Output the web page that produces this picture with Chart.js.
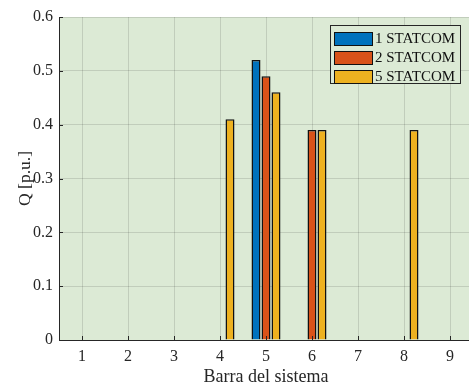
<!DOCTYPE html>
<html>
<head>
<meta charset="utf-8">
<script src="https://cdn.jsdelivr.net/npm/chart.js@4.4.0/dist/chart.umd.min.js"></script>
<style>
  html, body { margin: 0; padding: 0; background: #ffffff; overflow: hidden; }
  #wrap { width: 474px; height: 386px; position: relative; }
</style>
</head>
<body>
<div id="wrap"><canvas id="qChart"></canvas></div>
<script>
// Barras del sistema y potencia reactiva inyectada por cada caso
const barras = ['1', '2', '3', '4', '5', '6', '7', '8', '9'];
const statcom1 = [0, 0, 0, 0, 0.52, 0, 0, 0, 0];
const statcom2 = [0, 0, 0, 0, 0.49, 0.39, 0, 0, 0];
const statcom5 = [0, 0, 0, 0.41, 0.46, 0.39, 0, 0.39, 0];
const etiquetas = ['1 STATCOM', '2 STATCOM', '5 STATCOM'];
const yTicks = [0, 0.1, 0.2, 0.3, 0.4, 0.5, 0.6];

const colores = ['#0072BD', '#D95319', '#EDB120'];
const fondo = 'rgb(220,234,213)';
const fuente = "'Liberation Serif', 'Times New Roman', serif";

// Fondo verde del area de trazado
const fondoPlugin = {
    id: 'fondo',
    beforeDraw(chart) {
        const { ctx, chartArea: a } = chart;
        ctx.save();
        ctx.fillStyle = fondo;
        ctx.fillRect(a.left, a.top, a.right - a.left, a.bottom - a.top);
        ctx.restore();
    }
};

// Ejes con marcas hacia dentro, como en MATLAB
const ejesPlugin = {
    id: 'ejes',
    afterDatasetsDraw(chart) {
        const { ctx, chartArea: a, scales } = chart;
        ctx.save();
        ctx.strokeStyle = '#262626';
        ctx.lineWidth = 1;
        ctx.beginPath();
        ctx.moveTo(a.left + 0.5, a.top);
        ctx.lineTo(a.left + 0.5, a.bottom + 0.5);
        ctx.lineTo(a.right, a.bottom + 0.5);
        scales.y.ticks.forEach(t => {
            const y = Math.round(scales.y.getPixelForValue(t.value)) + 0.5;
            ctx.moveTo(a.left, y);
            ctx.lineTo(a.left + 4, y);
        });
        barras.forEach((b, i) => {
            const x = Math.round(scales.x.getPixelForValue(i)) + 0.5;
            ctx.moveTo(x, a.bottom);
            ctx.lineTo(x, a.bottom - 4);
        });
        ctx.stroke();
        ctx.restore();
    }
};

// Leyenda dentro del area, esquina superior derecha
const leyendaPlugin = {
    id: 'leyenda',
    afterDraw(chart) {
        const { ctx } = chart;
        const x0 = 330, y0 = 25, w = 130, h = 58;
        ctx.save();
        ctx.fillStyle = fondo;
        ctx.fillRect(x0, y0, w, h);
        ctx.strokeStyle = '#262626';
        ctx.lineWidth = 1;
        ctx.strokeRect(x0 + 0.5, y0 + 0.5, w, h);
        ctx.font = '15px ' + fuente;
        ctx.textBaseline = 'middle';
        chart.data.datasets.forEach((ds, i) => {
            const yc = y0 + 13 + i * 19;
            ctx.fillStyle = ds.backgroundColor;
            ctx.fillRect(x0 + 4, yc - 6, 38, 13);
            ctx.strokeStyle = '#111';
            ctx.strokeRect(x0 + 4.5, yc - 5.5, 38, 13);
            ctx.fillStyle = '#111';
            ctx.fillText(ds.label, x0 + 45, yc + 1);
        });
        ctx.restore();
    }
};

const ctx = document.getElementById('qChart').getContext('2d');
new Chart(ctx, {
    type: 'bar',
    data: {
        labels: barras,
        datasets: [statcom1, statcom2, statcom5].map((serie, i) => ({
            label: etiquetas[i],
            data: serie,
            backgroundColor: colores[i],
            borderColor: '#111',
            borderWidth: 1.5,
            borderSkipped: 'start',
            categoryPercentage: 0.652,
            barPercentage: 0.9
        }))
    },
    options: {
        responsive: true,
        maintainAspectRatio: false,
        animation: false,
        layout: { padding: { top: 17, right: 1, left: 0, bottom: 0 } },
        plugins: {
            legend: { display: false },
            tooltip: { enabled: false }
        },
        scales: {
            x: {
                grid: { color: 'rgba(0,0,0,0.12)', drawTicks: false, offset: false },
                border: { display: false },
                ticks: { color: '#262626', font: { family: fuente, size: 16 }, padding: 7 },
                title: {
                    display: true, text: 'Barra del sistema', color: '#262626',
                    font: { family: fuente, size: 18, lineHeight: 1 }, padding: { top: 0, bottom: 0 }
                },
                afterFit(scale) { scale.height = 46; }
            },
            y: {
                min: 0,
                max: 0.6,
                afterBuildTicks(scale) { scale.ticks = yTicks.map(v => ({ value: v })); },
                grid: { color: 'rgba(0,0,0,0.12)', drawTicks: false },
                border: { display: false },
                ticks: {
                    color: '#262626', font: { family: fuente, size: 16 }, padding: 6,
                    callback: v => String(Math.round(v * 10) / 10)
                },
                title: {
                    display: true, text: 'Q [p.u.]', color: '#262626',
                    font: { family: fuente, size: 17.5, lineHeight: 1 }, padding: { top: 17, bottom: 0 }
                },
                afterFit(scale) { scale.width = 59; }
            }
        }
    },
    plugins: [fondoPlugin, ejesPlugin, leyendaPlugin]
});
</script>
</body>
</html>
